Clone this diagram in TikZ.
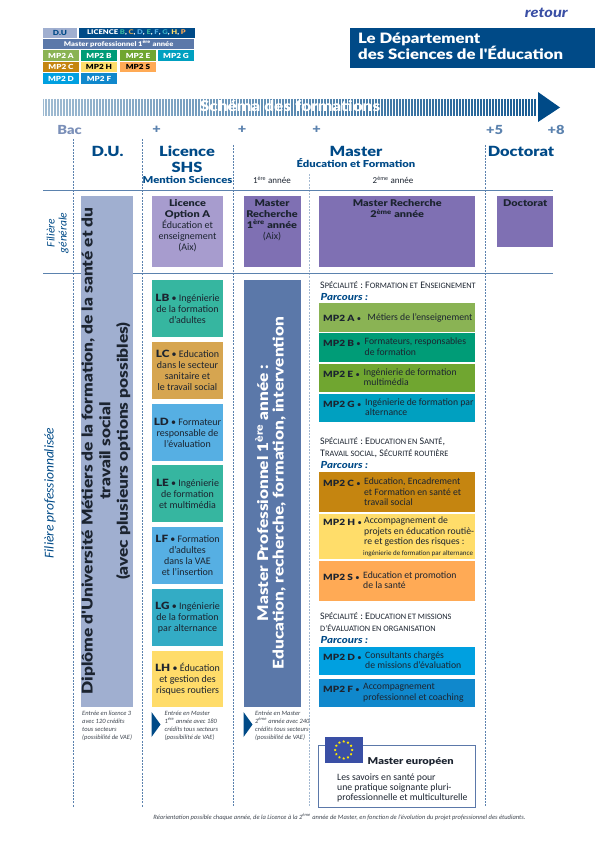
\documentclass[tikz,border=0pt]{standalone}
\usepackage{fontspec}
\usepackage{xcolor}
\usepackage{tikz}
\usetikzlibrary{positioning,shapes.geometric}
\setmainfont{Carlito}
\newfontfamily\headfont{Lato}[BoldFont={Lato Black},BoldItalicFont={Lato Black Italic},FakeStretch=1.17]

\definecolor{navy}{HTML}{004A87}
\definecolor{rulecol}{HTML}{5B82AE}
\definecolor{ducol}{HTML}{A0AFD0}
\definecolor{optacol}{HTML}{A79CCE}
\definecolor{recol}{HTML}{7F70B3}
\definecolor{procol}{HTML}{5B78A9}
\definecolor{lbcol}{HTML}{36B6A0}
\definecolor{lccol}{HTML}{D6A550}
\definecolor{ldcol}{HTML}{56AFE3}
\definecolor{lgcol}{HTML}{33ACC5}
\definecolor{lhcol}{HTML}{FFDC6A}
\definecolor{mpacol}{HTML}{8AB354}
\definecolor{mpbcol}{HTML}{009C77}
\definecolor{mpecol}{HTML}{70A630}
\definecolor{mpgcol}{HTML}{00A0C0}
\definecolor{mpccol}{HTML}{C58510}
\definecolor{mphcol}{HTML}{FFDD6A}
\definecolor{mpscol}{HTML}{FFAA55}
\definecolor{mpdcol}{HTML}{00A0E0}
\definecolor{mpfcol}{HTML}{1088CC}
\definecolor{inkcol}{HTML}{1C2430}
\definecolor{eucol}{HTML}{3A4FA5}
\definecolor{bluegrey}{HTML}{7A8FB8}

\newcommand{\sups}[1]{\textsuperscript{#1}}
\newcommand{\hb}[1]{{\headfont\bfseries\fontsize{9.3}{11}\selectfont #1}}
\newcommand{\petit}[1]{{\fontsize{8.3}{9}\selectfont #1}}
\newcommand{\puce}{{\rmfamily\mdseries •}}

\tikzset{
	box/.style={inner sep=0pt,outer sep=0pt,text=inkcol,align=center,font=\fontsize{10}{11}\selectfont},
	legend/.style={inner sep=0pt,outer sep=0pt,minimum width=36pt,minimum height=10.5pt,text=white,font=\headfont\bfseries\fontsize{7}{8}\selectfont},
	legend wide/.style={legend,font=\headfont\bfseries\fontsize{6.5}{8}\selectfont},
	head/.style={text=navy,inner sep=0pt,align=center,font=\headfont\bfseries\fontsize{14}{16}\selectfont},
	subhead/.style={text=navy,inner sep=0pt,font=\headfont\bfseries\fontsize{9.6}{11}\selectfont},
	year/.style={text=inkcol,inner sep=0pt,font=\fontsize{9}{10}\selectfont},
	step label/.style={text=rulecol,inner sep=0pt,font=\headfont\bfseries\fontsize{12.5}{15}\selectfont},
	filiere/.style={rotate=90,text=navy,inner sep=0pt,align=center,font=\itshape},
	stroke/.style={rulecol,line width=0.9pt,dash pattern=on 2pt off 1.2pt},
	spec/.style={anchor=west,inner sep=0pt,align=left,text=inkcol,font=\fontsize{10}{11.7}\selectfont},
	parc/.style={anchor=west,inner sep=0pt,text=navy,font=\headfont\bfseries\itshape\fontsize{9.7}{12}\selectfont},
	mpbox/.style={inner sep=0pt,outer sep=0pt,minimum width=156.5pt},
	mplabel/.style={anchor=base west,inner sep=0pt,text=inkcol,font=\headfont\bfseries\fontsize{8.6}{10}\selectfont},
	mptxt/.style={anchor=north west,inner sep=0pt,align=left,text=inkcol,font=\fontsize{9.7}{10.1}\selectfont},
	note/.style={anchor=north west,inner sep=0pt,align=left,text=inkcol!85,font=\itshape\fontsize{6.5}{8.2}\selectfont},
	eustar/.style={star,star points=5,fill=yellow!90!orange,inner sep=0pt,minimum size=2.6pt},
}

\begin{document}
\begin{tikzpicture}[x=1pt,y=-1pt]
	\useasboundingbox (0,0) rectangle (595,842);

	% legend
	\node[legend,fill=ducol,text=navy,minimum width=34pt] (ledu) at (60,33) {D.U};
	\node[legend wide,fill=navy,minimum width=116pt,anchor=west] (lelic) at (78.5,33)
		{LICENCE {\color{lbcol}B}, {\color{lccol}C}, {\color{ldcol}D}, {\color{lbcol}E}, {\color{ldcol}F}, {\color{lgcol}G}, {\color{lhcol}H}, {\color{mpscol}P}};
	\node[legend wide,fill=procol,minimum width=151.5pt] (lepro) at (118.7,44) {Master professionnel 1\sups{ère} année};
	\node[legend,fill=mpacol] (lea) at (61,55.5) {MP2 A};
	\node[legend,fill=mpbcol] (leb) at (99,55.5) {MP2 B};
	\node[legend,fill=mpecol] (lee) at (138,55.5) {MP2 E};
	\node[legend,fill=mpgcol] (leg) at (176,55.5) {MP2 G};
	\node[legend,fill=mpccol] (lec) at (61,67) {MP2 C};
	\node[legend,fill=mphcol,text=black] (leh) at (99,67) {MP2 H};
	\node[legend,fill=mpscol,text=black] (les) at (138,67) {MP2 S};
	\node[legend,fill=mpdcol] (led) at (61,78.5) {MP2 D};
	\node[legend,fill=mpfcol] (lef) at (99,78.5) {MP2 F};

	% title
	\node[anchor=east,text=eucol,inner sep=0pt,font=\headfont\bfseries\itshape\fontsize{14}{14}\selectfont] (retour) at (568,12.5) {retour};
	\node[fill=navy,minimum width=245pt,minimum height=40pt,inner sep=0pt,anchor=north west] (titlebox) at (350,28) {};
	\node[anchor=west,text=white,inner sep=0pt,align=left,font=\headfont\bfseries\fontsize{14.3}{16.5}\selectfont] (title) at (358,46.5)
		{Le Département\\des Sciences de l'Éducation};

	% big arrow
	\foreach \i in {0,...,164}{
		\pgfmathsetmacro{\t}{\i/164}
		\pgfmathsetmacro{\mixed}{int(38+52*\t)}
		\pgfmathsetlengthmacro{\wid}{(1+1.5*\t)*1pt}
		\draw[line width=\wid,navy!\mixed!white] (43+3*\i,99) -- (43+3*\i,116);
	}
	\fill[navy] (538,92) -- (560,107.5) -- (538,122) -- cycle;
	\node[text=white,inner sep=0pt,font=\headfont\bfseries\fontsize{14.7}{16}\selectfont] (schema) at (290,106.5) {Schéma des formations};

	% steps
	\node[step label,text=bluegrey] (bac) at (69.5,129.5) {Bac};
	\node[step label] (p1) at (156.5,129.5) {+};
	\node[step label] (p2) at (242,129.5) {+};
	\node[step label] (p3) at (316.5,129.5) {+};
	\node[step label] (p5) at (494.5,129.5) {+5};
	\node[step label] (p8) at (556,129.5) {+8};

	% columns
	\draw[stroke] (73.7,139) -- (73.7,807);
	\draw[stroke] (142,139) -- (142,807);
	\draw[stroke] (233,145) -- (233,807);
	\draw[stroke,rulecol!55] (309.5,174) -- (309.5,807);
	\draw[stroke] (485,145) -- (485,807);
	\draw[rulecol,line width=0.8pt] (43,190) -- (553,190);
	\draw[rulecol,line width=0.8pt] (43,273) -- (553,273);

	\node[head] (duhead) at (107.5,151) {D.U.};
	\node[head] (lichead) at (187,159) {Licence\\SHS};
	\node[subhead] (mention) at (187.5,179.5) {Mention Sciences};
	\node[head] (mashead) at (356,151) {Master};
	\node[subhead] (mastersub) at (356,163.5) {Éducation et Formation};
	\node[year] (y1) at (272,180) {1\sups{ère} année};
	\node[year] (y2) at (393,180) {2\sups{ème} année};
	\node[head] (dochead) at (521,151) {Doctorat};

	\node[filiere,font=\itshape\fontsize{11.5}{12}\selectfont] (fgen) at (57.5,233) {Filière\\générale};
	\node[filiere,font=\itshape\fontsize{13.5}{14}\selectfont] (fpro) at (50,493) {Filière professionnalisée};

	% D.U. column
	\node[box,fill=ducol,minimum width=52pt,minimum height=511pt] (du) at (107,451.5) {};
	\node[rotate=90,align=center,inner sep=0pt,text=inkcol,font=\headfont\bfseries\fontsize{14.8}{17.6}\selectfont] (dutxt) at (106,451)
		{Diplôme d'Université Métiers de la formation, de la santé et du\\travail social\\(avec plusieurs options possibles)};

	% licence column
	\node[box,fill=optacol,minimum width=71pt,minimum height=71pt] (opta) at (187.5,231.5) {};
	\node[box,below=4pt of opta.north] (optatxt)
		{\hb{Licence}\\\hb{Option A}\\Éducation et\\enseignement\\(Aix)};
	\node[box,fill=lbcol,minimum width=71pt,minimum height=57pt] (lb) at (187.5,308.5) {{\headfont\bfseries LB} • Ingénierie\\de la formation\\d'adultes};
	\node[box,fill=lccol,minimum width=71pt,minimum height=57pt] (lc) at (187.5,370.5) {{\headfont\bfseries LC} • Education\\dans le secteur\\sanitaire et\\le travail social};
	\node[box,fill=ldcol,minimum width=71pt,minimum height=57pt] (ld) at (187.5,432.5) {{\headfont\bfseries LD} • Formateur\\responsable de\\l'évaluation};
	\node[box,fill=lbcol,minimum width=71pt,minimum height=57pt] (le) at (187.5,493.5) {{\headfont\bfseries LE} • Ingénierie\\de formation\\et multimédia};
	\node[box,fill=ldcol,minimum width=71pt,minimum height=57pt] (lf) at (187.5,555.5) {{\headfont\bfseries LF} • Formation\\d'adultes\\dans la VAE\\et l'insertion};
	\node[box,fill=lgcol,minimum width=71pt,minimum height=57pt] (lg) at (187.5,617.5) {{\headfont\bfseries LG} • Ingénierie\\de la formation\\par alternance};
	\node[box,fill=lhcol,minimum width=71pt,minimum height=56pt] (lh) at (187.5,679) {{\headfont\bfseries LH} • Éducation\\et gestion des\\risques routiers};

	% master 1 column
	\node[box,fill=recol,minimum width=57pt,minimum height=71pt] (mr1) at (272,231.5) {};
	\node[box,below=4pt of mr1.north] (mr1txt)
		{\hb{Master}\\\hb{Recherche}\\\hb{1\sups{ère} année}\\(Aix)};
	\node[box,fill=procol,minimum width=57pt,minimum height=427pt] (mpro) at (272,493.5) {};
	\node[rotate=90,align=center,inner sep=0pt,text=white,font=\headfont\bfseries\fontsize{14.7}{15.5}\selectfont] (mprotxt) at (270.5,493)
		{Master Professionnel 1\sups{ère} année :\\Education, recherche, formation, intervention};

	% master 2 and doctorat
	\node[box,fill=recol,minimum width=156.5pt,minimum height=71pt] (mr2) at (397.2,231.5) {};
	\node[box,below=4pt of mr2.north] (mr2txt) {\hb{Master Recherche}\\\hb{2\sups{ème} année}};
	\node[box,fill=recol,minimum width=55.5pt,minimum height=51pt] (doc) at (525.2,221.5) {};
	\node[box,below=4pt of doc.north] (doctxt) {\hb{Doctorat}};

	% first speciality
	\node[spec] (sp1) at (320,285) {S\petit{PÉCIALITÉ} : F\petit{ORMATION ET} E\petit{NSEIGNEMENT}};
	\node[parc] (pa1) at (320.5,297) {Parcours :};
	\node[mpbox,fill=mpacol,minimum height=28.5pt] (mpa) at (397.2,317.3) {};
	\node[mpbox,fill=mpbcol,minimum height=28.5pt] (mpb) at (397.2,347.6) {};
	\node[mpbox,fill=mpecol,minimum height=28.5pt] (mpe) at (397.2,378) {};
	\node[mpbox,fill=mpgcol,minimum height=28.5pt] (mpg) at (397.2,408.2) {};
	\node[mplabel] (mpal) at (323,321.5) {MP2 A \puce};
	\node[mptxt] (mpat) at (367.5,313) {Métiers de l'enseignement};
	\node[mplabel] (mpbl) at (323,346.5) {MP2 B \puce};
	\node[mptxt] (mpbt) at (364.5,338) {Formateurs, responsables\\de formation};
	\node[mplabel] (mpel) at (323,377) {MP2 E \puce};
	\node[mptxt] (mpet) at (363.5,368.5) {Ingénierie de formation\\multimédia};
	\node[mplabel] (mpgl) at (323,407) {MP2 G \puce};
	\node[mptxt] (mpgt) at (365,398.5) {Ingénierie de formation par\\alternance};

	% second speciality
	\node[spec] (sp2) at (320,447.5) {S\petit{PÉCIALITÉ} : E\petit{DUCATION EN} S\petit{ANTÉ},\\T\petit{RAVAIL SOCIAL}, S\petit{ÉCURITÉ ROUTIÈRE}};
	\node[parc] (pa2) at (320.5,465) {Parcours :};
	\node[mpbox,fill=mpccol,minimum height=40pt] (mpc) at (397.2,492.3) {};
	\node[mpbox,fill=mphcol,minimum height=45.3pt] (mph) at (397.2,536.3) {};
	\node[mpbox,fill=mpscol,minimum height=40pt] (mps) at (397.2,581) {};
	\node[mplabel] (mpcl) at (323,486.5) {MP2 C \puce};
	\node[mptxt] (mpct) at (364,478) {Education, Encadrement\\et Formation en santé et\\travail social};
	\node[mplabel] (mphl) at (323,525.5) {MP2 H \puce};
	\node[mptxt] (mpht) at (364,517) {Accompagnement de\\projets en éducation routiè-\\re et gestion des risques :};
	\node[mptxt,font=\fontsize{7}{8}\selectfont] (mphs) at (363,550) {ingénierie de formation par alternance};
	\node[mplabel] (mpsl) at (323,580) {MP2 S \puce};
	\node[mptxt] (mpst) at (363,571.5) {Education et promotion\\de la santé};

	% third speciality
	\node[spec] (sp3) at (320,622) {S\petit{PÉCIALITÉ} : E\petit{DUCATION ET MISSIONS}\\\petit{D'ÉVALUATION EN ORGANISATION}};
	\node[parc] (pa3) at (320.5,640) {Parcours :};
	\node[mpbox,fill=mpdcol,minimum height=28.5pt] (mpd) at (397.2,661.2) {};
	\node[mpbox,fill=mpfcol,minimum height=28.5pt] (mpf) at (397.2,693) {};
	\node[mplabel] (mpdl) at (323,660) {MP2 D \puce};
	\node[mptxt] (mpdt) at (365,651.5) {Consultants chargés\\de missions d'évaluation};
	\node[mplabel] (mpfl) at (323,692) {MP2 F \puce};
	\node[mptxt] (mpft) at (363,683.5) {Accompagnement\\professionnel et coaching};

	% entry notes
	\node[note] (n1) at (82,710.5) {Entrée en licence 3\\avec 120 crédits\\tous secteurs\\(possibilité de VAE)};
	\fill[navy] (151.5,712) -- (160.5,724.5) -- (151.5,737) -- cycle;
	\node[note] (n2) at (164.5,710.5) {Entrée en Master\\1\sups{ère} année avec 180\\crédits tous secteurs\\(possibilité de VAE)};
	\fill[navy] (243.5,712) -- (252.5,724.5) -- (243.5,737) -- cycle;
	\node[note] (n3) at (255,710.5) {Entrée en Master\\2\sups{ème} année avec 240\\crédits tous secteurs\\(possibilité de VAE)};

	% european master
	\node[draw=procol,line width=1pt,fill=white,minimum width=156.5pt,minimum height=62pt,inner sep=0pt] (eubox) at (397.2,776.3) {};
	\node[fill=eucol,minimum width=38pt,minimum height=25.4pt,inner sep=0pt] (flag) at (343.7,750) {};
	\foreach \a in {0,30,...,330}
		\node[eustar] (star\a) at ([shift={(\a:8.5)}]flag.center) {};
	\node[anchor=west,inner sep=0pt,text=inkcol,font=\headfont\bfseries\fontsize{9.5}{11}\selectfont] (eutitle) at (367.5,762) {Master européen};
	\node[anchor=west,inner sep=0pt,align=left,text=inkcol,font=\fontsize{9.7}{10.1}\selectfont] (eutxt) at (337,788)
		{Les savoirs en santé pour\\une pratique soignante pluri-\\professionnelle et multiculturelle};

	\node[inner sep=0pt,text=inkcol!85,font=\itshape\fontsize{6.5}{8}\selectfont] (foot) at (339.5,817)
		{Réorientation possible chaque année, de la Licence à la 2\sups{ème} année de Master, en fonction de l'évolution du projet professionnel des étudiants.};
\end{tikzpicture}
\end{document}
